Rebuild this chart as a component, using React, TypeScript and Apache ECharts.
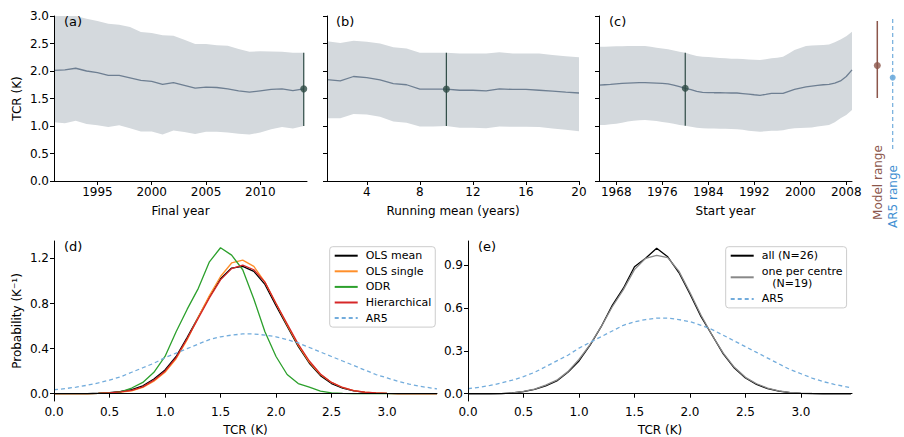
import React, { useEffect, useRef } from "react";
import * as echarts from "echarts";

// ---- Panel (a): final year ----
const yearsA = [1991,1992,1993,1994,1995,1996,1997,1998,1999,2000,2001,2002,2003,2004,2005,2006,2007,2008,2009,2010,2011,2012,2013,2014];
const meanA = [2.01,2.02,2.05,2.00,1.97,1.92,1.92,1.875,1.83,1.81,1.755,1.79,1.74,1.69,1.705,1.70,1.675,1.64,1.615,1.64,1.665,1.675,1.645,1.675];
const upA = [3.0,3.0,3.0,2.95,2.91,2.86,2.84,2.80,2.71,2.69,2.65,2.64,2.57,2.49,2.49,2.47,2.46,2.40,2.35,2.36,2.355,2.35,2.33,2.33];
const lowA = [1.07,1.05,1.095,1.035,1.015,0.98,1.015,0.96,0.90,0.90,0.845,0.92,0.89,0.855,0.895,0.895,0.88,0.86,0.845,0.88,0.94,0.98,0.955,1.00];
const errA = { x: 2014, low: 1.0, high: 2.33, mid: 1.675 };

// ---- Panel (b): running mean ----
const yearsB = [1,2,3,4,5,6,7,8,9,10,11,12,13,14,15,16,17,18,19,20];
const meanB = [1.845,1.82,1.90,1.88,1.84,1.77,1.75,1.67,1.67,1.67,1.65,1.65,1.64,1.675,1.665,1.665,1.65,1.635,1.615,1.60];
const upB = [2.54,2.51,2.55,2.53,2.50,2.43,2.41,2.33,2.33,2.33,2.32,2.32,2.32,2.34,2.32,2.32,2.32,2.29,2.27,2.25];
const lowB = [1.14,1.14,1.22,1.21,1.17,1.08,1.06,0.99,0.99,1.00,0.97,0.97,0.96,0.99,0.985,0.985,0.98,0.955,0.93,0.905];
const errB = { x: 10, low: 1.0, high: 2.33, mid: 1.67 };

// ---- Panel (c): start year ----
const yearsC = [1965,1966,1967,1968,1969,1970,1971,1972,1973,1974,1975,1976,1977,1978,1979,1980,1981,1982,1983,1984,1985,1986,1987,1988,1989,1990,1991,1992,1993,1994,1995,1996,1997,1998,1999,2000,2001,2002,2003,2004,2005,2006,2007,2008,2009];
const meanC = [1.745,1.75,1.755,1.765,1.775,1.78,1.785,1.79,1.79,1.785,1.78,1.775,1.765,1.745,1.715,1.685,1.66,1.63,1.61,1.608,1.605,1.605,1.603,1.60,1.60,1.59,1.58,1.568,1.558,1.575,1.594,1.594,1.594,1.63,1.665,1.69,1.71,1.725,1.74,1.75,1.758,1.78,1.82,1.90,2.02];
const upC = [2.44,2.44,2.445,2.45,2.45,2.455,2.455,2.455,2.455,2.44,2.425,2.41,2.395,2.375,2.35,2.33,2.30,2.275,2.26,2.255,2.245,2.235,2.23,2.225,2.225,2.22,2.21,2.205,2.20,2.215,2.23,2.24,2.26,2.32,2.38,2.42,2.455,2.465,2.47,2.475,2.48,2.525,2.575,2.63,2.715];
const lowC = [1.02,1.02,1.03,1.04,1.06,1.08,1.095,1.105,1.11,1.10,1.09,1.075,1.06,1.04,1.02,1.005,0.985,0.97,0.96,0.955,0.955,0.95,0.95,0.945,0.94,0.93,0.915,0.905,0.895,0.905,0.915,0.915,0.925,0.945,0.96,0.965,0.968,0.975,0.99,1.005,1.02,1.07,1.14,1.20,1.29];
const errC = { x: 1980, low: 1.005, high: 2.33, mid: 1.685 };

// ---- Range markers ----
const rangeCats = ["Model range", "AR5 range"];
const modelRange = { low: 1.51, high: 2.91, mid: 2.1 };
const ar5Range = { low: 0.58, high: 3.0, mid: 1.88 };

// ---- Panels (d), (e): PDFs ----
const tcrX = [0,0.1,0.2,0.3,0.4,0.5,0.6,0.7,0.8,0.9,1.0,1.1,1.2,1.3,1.4,1.5,1.6,1.7,1.8,1.9,2.0,2.1,2.2,2.3,2.4,2.5,2.6,2.7,2.8,2.9,3.0,3.1,3.2,3.3,3.4,3.45];
const olsMean = [0,0,0,0.001,0.004,0.01,0.02,0.035,0.07,0.13,0.21,0.33,0.50,0.68,0.86,1.02,1.115,1.13,1.085,0.97,0.78,0.60,0.42,0.27,0.16,0.09,0.05,0.025,0.012,0.005,0.002,0.001,0,0,0,0];
const olsSingle = [0,0,0,0,0.002,0.006,0.013,0.025,0.055,0.11,0.19,0.31,0.48,0.68,0.87,1.04,1.16,1.185,1.13,0.99,0.80,0.61,0.43,0.28,0.17,0.10,0.055,0.028,0.013,0.006,0.002,0.001,0,0,0,0];
const odr = [0,0,0,0.001,0.002,0.005,0.015,0.05,0.10,0.19,0.33,0.55,0.75,0.935,1.17,1.295,1.23,1.10,0.84,0.55,0.33,0.17,0.09,0.058,0.023,0.008,0.003,0.001,0,0,0,0,0,0,0,0];
const hier = [0,0,0,0.001,0.003,0.008,0.016,0.03,0.06,0.12,0.20,0.32,0.49,0.67,0.85,1.01,1.11,1.14,1.10,0.99,0.80,0.62,0.44,0.29,0.175,0.10,0.055,0.028,0.013,0.006,0.002,0.001,0,0,0,0];
const ar5 = [0.035,0.045,0.058,0.075,0.095,0.12,0.15,0.19,0.23,0.27,0.32,0.36,0.40,0.44,0.48,0.505,0.52,0.53,0.53,0.52,0.505,0.48,0.45,0.41,0.37,0.33,0.29,0.25,0.21,0.17,0.14,0.11,0.085,0.065,0.05,0.043];
const allN = [0,0,0,0.001,0.005,0.015,0.03,0.055,0.09,0.15,0.23,0.34,0.47,0.62,0.74,0.89,0.95,1.02,0.96,0.85,0.70,0.54,0.41,0.28,0.18,0.11,0.065,0.035,0.018,0.008,0.003,0.001,0,0,0,0];
const oneN = [0,0,0,0.001,0.005,0.016,0.032,0.06,0.095,0.155,0.24,0.345,0.47,0.61,0.73,0.87,0.95,0.97,0.955,0.86,0.71,0.55,0.41,0.285,0.185,0.115,0.07,0.04,0.02,0.01,0.004,0.002,0.001,0,0,0];

const ticksA = [1995, 2000, 2005, 2010];
const ticksB = [4, 8, 12, 16, 20];
const ticksC = [1968, 1976, 1984, 1992, 2000, 2008];
const ticksTCR = [0, 0.5, 1.0, 1.5, 2.0, 2.5, 3.0];
const ticksD = [0, 0.4, 0.8, 1.2];
const ticksE = [0, 0.3, 0.6, 0.9];

const FONT = "DejaVu Sans";
const BAND = "#d4d9dd";
const MEAN = "#6e7f92";
const ERR = "#2d4a44";
const BROWN = "#8c564b";
const AR5C = "#72acdc";
const AR5T = "#3f8fd2";

const pairs = (xs: number[], ys: number[]) => xs.map((x, i) => [x, ys[i]]);
const plain = (v: number) => String(v);
const fmt1 = (v: number) => v.toFixed(1);

function tickAxis(gi: number, ticks: number[] | null, formatter: any, extra: any) {
  const label: any = { color: "#000", fontSize: 12, fontFamily: FONT, margin: 5, formatter };
  const tick: any = { show: true, length: 4, lineStyle: { color: "#000" } };
  if (ticks) { label.customValues = ticks; tick.customValues = ticks; }
  return {
    gridIndex: gi,
    type: "value",
    axisLine: { show: true, lineStyle: { color: "#000", width: 1 } },
    axisTick: tick,
    axisLabel: label,
    splitLine: { show: false },
    nameTextStyle: { color: "#000", fontSize: 12, fontFamily: FONT },
    nameLocation: "middle",
    z: 10,
    ...extra,
  };
}

function bandSeries(gi: number, xs: number[], low: number[], up: number[], mean: number[], err: any, tag: string) {
  return [
    {
      name: "band" + tag, type: "custom", xAxisIndex: gi, yAxisIndex: gi, clip: true, silent: true,
      data: xs.map((x, i) => [x, low[i], up[i]]),
      renderItem: (params: any, api: any) => {
        if (params.dataIndex !== 0) return null;
        const top = xs.map((x, i) => api.coord([x, up[i]]));
        const bot = xs.map((x, i) => api.coord([x, low[i]])).reverse();
        return { type: "polygon", shape: { points: top.concat(bot) }, style: { fill: BAND, stroke: null } };
      },
      z: 1,
    },
    {
      name: "mean" + tag, type: "line", xAxisIndex: gi, yAxisIndex: gi, data: pairs(xs, mean),
      symbol: "none", lineStyle: { color: MEAN, width: 1.3 }, z: 2,
    },
    {
      name: "err" + tag, type: "line", xAxisIndex: gi, yAxisIndex: gi,
      data: [[err.x, err.low], [err.x, err.high]], symbol: "none", lineStyle: { color: ERR, width: 1.2 }, z: 3,
    },
    {
      name: "dot" + tag, type: "scatter", xAxisIndex: gi, yAxisIndex: gi,
      data: [[err.x, err.mid]], symbolSize: 7, itemStyle: { color: ERR }, z: 5,
    },
  ];
}

function pdf(gi: number, name: string, ys: number[], color: string, dashed = false) {
  return {
    name, type: "line", xAxisIndex: gi, yAxisIndex: gi, data: pairs(tcrX, ys), symbol: "none",
    lineStyle: { color, width: 1.3, type: dashed ? [4, 3] : "solid" }, itemStyle: { color },
  };
}

const legendCommon = {
  orient: "vertical",
  itemWidth: 23,
  itemHeight: 10,
  itemGap: 3.6,
  backgroundColor: "#fff",
  borderColor: "#ccc",
  borderWidth: 1,
  borderRadius: 3,
  padding: [3, 4, 3, 4],
  align: "left",
  itemStyle: { opacity: 0 },
  textStyle: { fontSize: 11, fontFamily: FONT, color: "#000", lineHeight: 12, padding: [0, 0, 0, 3] },
};

function label(text: string, left: number, top: number) {
  return { type: "text", left, top, z: 100, style: { text, fontSize: 13, fontFamily: FONT, fill: "#000" } };
}

export default function App() {
  const ref = useRef<HTMLDivElement>(null);
  useEffect(() => {
    document.body.style.margin = "0";
    const chart = echarts.init(ref.current!, null, { renderer: "svg" });
    const option: any = {
      animation: false,
      grid: [
        { left: 54, top: 16, width: 253, height: 165 },
        { left: 327, top: 16, width: 252, height: 165 },
        { left: 599, top: 16, width: 253, height: 165 },
        { left: 54, top: 241, width: 383, height: 164 },
        { left: 468, top: 241, width: 384, height: 164 },
        { left: 869.6, top: 16, width: 30.8, height: 165 },
      ],
      xAxis: [
        tickAxis(0, ticksA, plain, { min: 1991, max: 2014.3, name: "Final year", nameGap: 24 }),
        tickAxis(1, ticksB, plain, { min: 1, max: 20, name: "Running mean (years)", nameGap: 24 }),
        tickAxis(2, ticksC, plain, { min: 1965, max: 2009, name: "Start year", nameGap: 24 }),
        tickAxis(3, ticksTCR, fmt1, { min: 0, max: 3.45, name: "TCR (K)", nameGap: 23 }),
        tickAxis(4, ticksTCR, fmt1, { min: 0, max: 3.46, name: "TCR (K)", nameGap: 23 }),
        { gridIndex: 5, type: "category", data: rangeCats, show: false },
      ],
      yAxis: [
        tickAxis(0, null, fmt1, { min: 0, max: 3, interval: 0.5, name: "TCR (K)", nameGap: 31 }),
        tickAxis(1, null, fmt1, { min: 0, max: 3, interval: 0.5, axisLabel: { show: false } }),
        tickAxis(2, null, fmt1, { min: 0, max: 3, interval: 0.5, axisLabel: { show: false } }),
        tickAxis(3, ticksD, fmt1, { min: -0.065, max: 1.355, name: "Probability (K⁻¹)", nameGap: 31 }),
        tickAxis(4, ticksE, fmt1, { min: -0.051, max: 1.071 }),
        { gridIndex: 5, type: "value", min: 0, max: 3, show: false },
      ],
      legend: [
        { ...legendCommon, left: 329.7, top: 246.7, data: ["OLS mean", "OLS single", "ODR", "Hierarchical", "AR5"] },
        { ...legendCommon, left: 725.7, top: 246.7, data: ["all (N=26)", "one per centre\n   (N=19)", "AR5"] },
      ],
      graphic: [
        label("(a)", 64, 15),
        label("(b)", 336, 15),
        label("(c)", 609, 15),
        label("(d)", 64, 240),
        label("(e)", 478, 240),
        { type: "text", x: 877.5, y: 182.5, rotation: Math.PI / 2, z: 100,
          style: { text: "Model range", fontSize: 12, fontFamily: FONT, fill: BROWN, align: "center", verticalAlign: "middle" } },
        { type: "text", x: 893, y: 196.5, rotation: Math.PI / 2, z: 100,
          style: { text: "AR5 range", fontSize: 12, fontFamily: FONT, fill: AR5T, align: "center", verticalAlign: "middle" } },
      ],
      series: [
        ...bandSeries(0, yearsA, lowA, upA, meanA, errA, "A"),
        ...bandSeries(1, yearsB, lowB, upB, meanB, errB, "B"),
        ...bandSeries(2, yearsC, lowC, upC, meanC, errC, "C"),
        pdf(3, "OLS mean", olsMean, "#000000"),
        pdf(3, "OLS single", olsSingle, "#ff8f2a"),
        pdf(3, "ODR", odr, "#2ca02c"),
        pdf(3, "Hierarchical", hier, "#d62728"),
        pdf(3, "AR5", ar5, AR5C, true),
        pdf(4, "all (N=26)", allN, "#000000"),
        pdf(4, "one per centre\n   (N=19)", oneN, "#888888"),
        pdf(4, "AR5", ar5, AR5C, true),
        {
          name: "modelRangeLine", type: "line", xAxisIndex: 5, yAxisIndex: 5,
          data: [[rangeCats[0], modelRange.low], [rangeCats[0], modelRange.high]], symbol: "none",
          lineStyle: { color: BROWN, width: 1.5 },
        },
        {
          name: "modelRangeDot", type: "scatter", xAxisIndex: 5, yAxisIndex: 5,
          data: [[rangeCats[0], modelRange.mid]], symbolSize: 7, itemStyle: { color: BROWN },
        },
        {
          name: "ar5RangeLine", type: "line", xAxisIndex: 5, yAxisIndex: 5,
          data: [[rangeCats[1], ar5Range.low], [rangeCats[1], ar5Range.high]], symbol: "none",
          lineStyle: { color: AR5C, width: 1.2, type: [4, 3] },
        },
        {
          name: "ar5RangeDot", type: "scatter", xAxisIndex: 5, yAxisIndex: 5,
          data: [[rangeCats[1], ar5Range.mid]], symbolSize: 6, itemStyle: { color: "#5aa0d8" },
        },
      ],
    };
    chart.setOption(option);
    return () => chart.dispose();
  }, []);
  return <div ref={ref} style={{ width: 904, height: 437 }} />;
}
